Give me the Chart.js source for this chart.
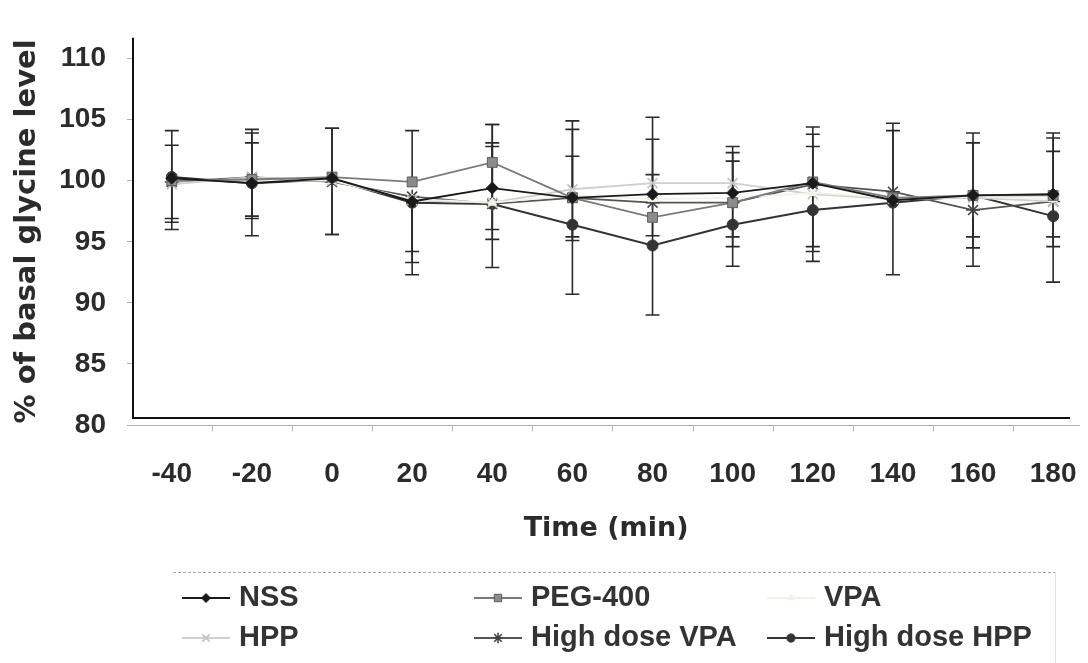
<!DOCTYPE html>
<html>
<head>
<meta charset="utf-8">
<title>% of basal glycine level</title>
<script src="https://cdn.jsdelivr.net/npm/chart.js@4.4.1/dist/chart.umd.min.js"></script>
<style>
    html, body { margin: 0; padding: 0; background: #fff; }
    #wrap { width: 1088px; height: 663px; position: relative; }
</style>
</head>
<body>
<div id="wrap"><canvas id="glycine"></canvas></div>
<script>
// Time points (min) and y axis ticks
const timePoints = [-40, -20, 0, 20, 40, 60, 80, 100, 120, 140, 160, 180];
const yTicks = [80, 85, 90, 95, 100, 105, 110];

// Mean % of basal glycine level
const nss       = [100.2, 99.8, 100.2, 98.3, 99.4, 98.6, 98.9, 99.0, 99.8, 98.4, 98.8, 98.9];
const peg400    = [100.0, 100.1, 100.3, 99.9, 101.5, 98.6, 97.0, 98.2, 99.9, 98.6, 98.8, 98.8];
const vpa       = [100.0, 100.0, 100.0, 98.5, 98.2, 98.8, 98.5, 98.6, 99.0, 98.6, 98.7, 98.5];
const hpp       = [99.7, 100.3, 100.0, 98.4, 98.2, 99.3, 99.8, 99.8, 98.9, 98.5, 98.6, 98.3];
const highVpa   = [99.9, 100.3, 99.9, 98.7, 98.1, 98.6, 98.2, 98.2, 99.7, 99.1, 97.6, 98.3];
const highHpp   = [100.3, 99.8, 100.1, 98.2, 98.1, 96.4, 94.7, 96.4, 97.6, 98.2, 98.8, 97.1];

// Error bars (upper / lower), null where the figure shows none
const nssUp       = [2.7, 3.3, 4.1, null, 3.7, 3.4, 4.5, 3.8, 3.0, 5.7, 4.3, 5.0];
const nssDown     = [null, null, null, 4.1, 4.2, 3.5, null, 3.6, 6.4, null, null, null];
const pegUp       = [null, null, null, 4.2, 3.1, null, null, 3.4, 4.5, null, 5.1, 4.7];
const pegDown     = [3.1, 3.0, 4.7, null, null, 3.2, 1.5, null, null, null, null, 4.2];
const hppUp       = [null, 3.9, null, null, null, 5.6, 5.4, 2.5, null, null, null, 4.1];
const hppDown     = [3.1, 3.4, null, null, 2.2, null, null, null, 4.7, null, 5.6, null];
const highVpaUp   = [null, 3.6, null, null, 4.7, 5.6, null, null, 4.1, 5.6, null, null];
const highVpaDown = [3.9, null, 4.3, 5.4, null, null, null, 3.6, null, null, 2.2, 2.9];
const highHppUp   = [3.8, null, 4.2, null, 6.5, null, 5.8, null, null, null, null, null];
const highHppDown = [null, 4.3, null, 5.9, 5.2, 5.7, 5.7, 3.4, 3.0, 5.9, 4.3, 5.4];

const textColor = '#2b2b2b';

function makeSet(label, values, up, down, style) {
    return {
        label: label,
        data: timePoints.map((t, i) => ({ x: t, y: values[i] })),
        errUp: up,
        errDown: down,
        borderColor: style.line,
        backgroundColor: style.fill,
        pointBorderColor: style.marker,
        pointBackgroundColor: style.fill,
        borderWidth: style.width || 1.8,
        pointStyle: style.point,
        pointRadius: style.radius,
        pointBorderWidth: style.pointWidth || 1,
        tension: 0
    };
}

const datasets = [
    makeSet('NSS', nss, nssUp, nssDown,
        { line: '#1a1a1a', fill: '#1a1a1a', marker: '#1a1a1a', point: 'rectRot', radius: 6 }),
    makeSet('PEG-400', peg400, pegUp, pegDown,
        { line: '#7a7a7a', fill: '#8c8c8c', marker: '#5e5e5e', point: 'rect', radius: 7 }),
    makeSet('VPA', vpa, null, null,
        { line: '#f4f2e8', fill: '#f4f2e8', marker: '#f4f2e8', point: 'triangle', radius: 5 }),
    makeSet('HPP', hpp, hppUp, hppDown,
        { line: '#cfcfcf', fill: '#cfcfcf', marker: '#c4c4c4', point: 'crossRot', radius: 7, pointWidth: 1.8 }),
    makeSet('High dose VPA', highVpa, highVpaUp, highVpaDown,
        { line: '#555555', fill: '#555555', marker: '#444444', point: 'star', radius: 7, pointWidth: 1.6 }),
    makeSet('High dose HPP', highHpp, highHppUp, highHppDown,
        { line: '#333333', fill: '#333333', marker: '#333333', point: 'circle', radius: 5.5, width: 2 })
];

// Error bars, drawn under the lines
const errorBars = {
    id: 'errorBars',
    beforeDatasetsDraw(chart) {
        const { ctx, scales: { x, y } } = chart;
        ctx.save();
        ctx.strokeStyle = '#2a2a2a';
        ctx.lineWidth = 1.6;
        chart.data.datasets.forEach(ds => {
            ds.data.forEach((p, i) => {
                const px = x.getPixelForValue(p.x);
                const py = y.getPixelForValue(p.y);
                [[ds.errUp, 1], [ds.errDown, -1]].forEach(([arr, sign]) => {
                    if (!arr || arr[i] == null) return;
                    const ey = y.getPixelForValue(p.y + sign * arr[i]);
                    ctx.beginPath();
                    ctx.moveTo(px, py);
                    ctx.lineTo(px, ey);
                    ctx.moveTo(px - 7, ey);
                    ctx.lineTo(px + 7, ey);
                    ctx.stroke();
                });
            });
        });
        ctx.restore();
    }
};

// Plot frame (black left + bottom lines) and faint ticks between time points
const frame = {
    id: 'frame',
    beforeDatasetsDraw(chart) {
        const { ctx, chartArea, scales: { x } } = chart;
        ctx.save();
        ctx.strokeStyle = '#b5b5b5';
        ctx.lineWidth = 1;
        timePoints.slice(0, -1).forEach(t => {
            const px = Math.round(x.getPixelForValue(t + 10)) + 0.5;
            ctx.beginPath();
            ctx.moveTo(px, chartArea.bottom);
            ctx.lineTo(px, chartArea.bottom + 6);
            ctx.stroke();
        });
        ctx.strokeStyle = '#111';
        ctx.lineWidth = 2;
        ctx.beginPath();
        ctx.moveTo(chartArea.left, chartArea.top);
        ctx.lineTo(chartArea.left, chartArea.bottom - 7);
        ctx.lineTo(1070, chartArea.bottom - 7);
        ctx.stroke();
        ctx.restore();
    }
};

// Legend in three columns under the axis title
const legendBox = {
    id: 'legendBox',
    afterDraw(chart) {
        const ctx = chart.ctx;
        const cols = [206, 498, 791];
        const rows = [598, 638];
        ctx.save();
        ctx.strokeStyle = '#a8a8a8';
        ctx.lineWidth = 1;
        ctx.setLineDash([3, 2]);
        ctx.beginPath();
        ctx.moveTo(173, 572.5);
        ctx.lineTo(1055, 572.5);
        ctx.stroke();
        ctx.setLineDash([]);
        ctx.strokeStyle = '#e2e2e2';
        ctx.beginPath();
        ctx.moveTo(1055.5, 572);
        ctx.lineTo(1055.5, 663);
        ctx.stroke();

        ctx.font = 'bold 29px "Liberation Sans", Arial, sans-serif';
        ctx.textBaseline = 'middle';
        chart.data.datasets.forEach((ds, i) => {
            const cx = cols[i % 3];
            const cy = rows[Math.floor(i / 3)];
            ctx.strokeStyle = ds.borderColor;
            ctx.lineWidth = ds.borderWidth;
            ctx.beginPath();
            ctx.moveTo(cx - 24, cy);
            ctx.lineTo(cx + 24, cy);
            ctx.stroke();
            ctx.fillStyle = ds.pointBackgroundColor;
            ctx.strokeStyle = ds.pointBorderColor;
            ctx.lineWidth = ds.pointBorderWidth;
            Chart.helpers.drawPoint(ctx, {
                pointStyle: ds.pointStyle,
                radius: ds.pointRadius * 0.75,
                rotation: 0,
                borderWidth: ds.pointBorderWidth
            }, cx, cy);
            ctx.fillStyle = '#333';
            ctx.fillText(ds.label, cx + 33, cy);
        });
        ctx.restore();
    }
};

new Chart(document.getElementById('glycine'), {
    type: 'line',
    data: { datasets: datasets },
    options: {
        responsive: true,
        maintainAspectRatio: false,
        animation: false,
        layout: { padding: { top: 11, right: 3, left: 0, bottom: 118 } },
        plugins: {
            legend: { display: false },
            tooltip: { enabled: false }
        },
        scales: {
            x: {
                type: 'linear',
                min: -49.68,
                max: 186.5,
                afterBuildTicks: scale => { scale.ticks = timePoints.map(v => ({ value: v })); },
                afterFit: scale => { scale.height = 120; },
                // invisible tick marks keep the labels low without narrowing the plot
                grid: { display: true, drawOnChartArea: false, drawTicks: true, tickLength: 32, tickColor: 'rgba(0,0,0,0)' },
                border: { display: true, color: '#b0b0b0', width: 1, dash: [3, 2] },
                ticks: {
                    padding: 0,
                    autoSkip: false,
                    maxRotation: 0,
                    color: textColor,
                    font: { family: '"Liberation Sans", Arial, sans-serif', size: 28, weight: 'bold' },
                    callback: v => String(v)
                },
                title: {
                    display: true,
                    text: 'Time (min)',
                    color: textColor,
                    padding: { top: 0, bottom: 0 },
                    font: { family: '"DejaVu Sans", Verdana, sans-serif', size: 27, weight: 'bold' }
                }
            },
            y: {
                min: 80,
                max: 111.7,
                afterBuildTicks: scale => { scale.ticks = yTicks.map(v => ({ value: v })); },
                afterFit: scale => { scale.width = 133; },
                grid: { drawOnChartArea: false, drawTicks: true, tickLength: 6, color: '#b0b0b0' },
                border: { display: false },
                ticks: {
                    padding: 21,
                    color: textColor,
                    font: { family: '"Liberation Sans", Arial, sans-serif', size: 28, weight: 'bold' }
                },
                title: {
                    display: true,
                    text: '% of basal glycine level',
                    color: textColor,
                    padding: { top: 10, bottom: 0 },
                    font: { family: '"DejaVu Sans", Verdana, sans-serif', size: 29, weight: 'bold' }
                }
            }
        }
    },
    plugins: [errorBars, frame, legendBox]
});
</script>
</body>
</html>
